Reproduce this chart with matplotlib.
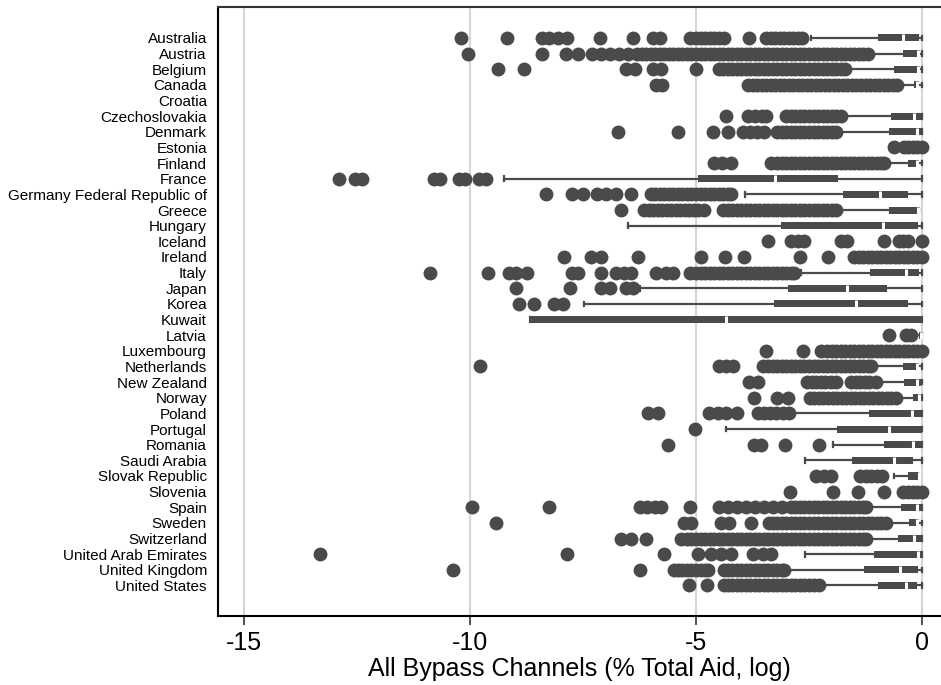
import numpy as np
import matplotlib
matplotlib.use("Agg")
import matplotlib.pyplot as plt

plt.rcParams['font.family'] = ['Liberation Sans', 'DejaVu Sans']

countries = [
    "Australia", "Austria", "Belgium", "Canada", "Croatia", "Czechoslovakia",
    "Denmark", "Estonia", "Finland", "France", "Germany Federal Republic of",
    "Greece", "Hungary", "Iceland", "Ireland", "Italy", "Japan", "Korea",
    "Kuwait", "Latvia", "Luxembourg", "Netherlands", "New Zealand", "Norway",
    "Poland", "Portugal", "Romania", "Saudi Arabia", "Slovak Republic",
    "Slovenia", "Spain", "Sweden", "Switzerland", "United Arab Emirates",
    "United Kingdom", "United States",
]

# box statistics (nan = no box drawn)
whis_lo = [-2.46, -1.10, -1.60, -0.45, np.nan, -1.70, -1.85, 0.0, -0.80, -9.25,
           -3.92, -1.85, -6.50, 0.0, 0.0, -2.68, -6.25, -7.48, -8.67, -0.20,
           0.0, -1.10, -0.95, -0.55, -2.90, -4.34, -1.97, -2.59, -0.62, 0.0,
           -1.20, -0.70, -1.20, -2.59, -3.00, -2.20]
q1 = [-0.98, -0.43, -0.62, -0.18, np.nan, -0.69, -0.73, 0.0, -0.31, -4.96,
      -1.75, -0.73, -3.12, 0.0, 0.0, -1.15, -2.97, -3.27, -8.67, -0.07,
      0.0, -0.42, -0.40, -0.20, -1.17, -1.88, -0.83, -1.55, -0.31, 0.0,
      -0.46, -0.28, -0.53, -1.06, -1.28, -0.97]
median = [-0.43, -0.08, -0.08, -0.10, np.nan, -0.17, -0.12, 0.0, -0.10, -3.25,
          -0.93, -0.08, -0.87, 0.0, 0.0, -0.36, -1.65, -1.46, -4.33, -0.03,
          0.0, -0.10, -0.10, -0.07, -0.22, -0.72, -0.20, -0.62, -0.07, 0.0,
          -0.10, -0.10, -0.17, -0.08, -0.49, -0.35]
q3 = [-0.07, -0.04, -0.04, -0.06, np.nan, -0.02, -0.02, 0.0, -0.07, -1.86,
      -0.31, -0.06, -0.09, 0.0, 0.0, -0.07, -0.77, -0.31, 0.0, 0.0,
      0.0, -0.07, -0.02, -0.02, 0.0, 0.0, 0.0, -0.20, -0.06, 0.0,
      0.0, -0.07, 0.0, 0.0, -0.09, -0.11]
whis_hi = [0.0, 0.0, 0.0, 0.0, np.nan, 0.0, 0.0, 0.0, 0.0, 0.0,
           0.0, -0.06, 0.0, 0.0, 0.0, 0.0, 0.0, 0.0, 0.0, 0.0,
           0.0, 0.0, 0.0, 0.0, 0.0, 0.0, 0.0, 0.0, -0.06, 0.0,
           0.0, 0.0, 0.0, 0.0, 0.0, 0.0]

# outside values, one list per country
outliers = [
    # Australia
    [-10.2, -9.18, -8.4, -8.25, -8.05, -7.85, -7.12, -6.4, -5.95, -5.8, -5.14, -5.0, -4.9,
     -4.8, -4.7, -4.6, -4.5, -4.38, -3.83, -3.45, -3.35, -3.25, -3.15, -3.05, -2.95, -2.85,
     -2.75, -2.65],
    # Austria
    [-10.05, -8.41, -7.88, -7.6, -7.3, -7.1, -6.9, -6.7, -6.5, -6.3, -6.2, -6.1, -6.0, -5.9,
     -5.8, -5.7, -5.6, -5.5, -5.4, -5.3, -5.2, -5.1, -5.0, -4.9, -4.8, -4.7, -4.6, -4.5, -4.4,
     -4.3, -4.2, -4.1, -4.0, -3.9, -3.8, -3.7, -3.6, -3.5, -3.4, -3.3, -3.2, -3.1, -3.0, -2.9,
     -2.8, -2.7, -2.6, -2.5, -2.4, -2.3, -2.2, -2.1, -2.0, -1.9, -1.8, -1.7, -1.6, -1.5, -1.4,
     -1.3, -1.2],
    # Belgium
    [-9.37, -8.81, -6.55, -6.35, -5.95, -5.77, -5.0, -4.5, -4.4, -4.3, -4.2, -4.1, -4.0, -3.9,
     -3.8, -3.7, -3.6, -3.5, -3.4, -3.3, -3.2, -3.1, -3.0, -2.9, -2.8, -2.7, -2.6, -2.5, -2.4,
     -2.3, -2.2, -2.1, -2.0, -1.9, -1.8, -1.7],
    # Canada
    [-5.88, -5.75, -3.85, -3.75, -3.65, -3.55, -3.45, -3.35, -3.25, -3.15, -3.05, -2.95, -2.85,
     -2.75, -2.65, -2.55, -2.45, -2.35, -2.25, -2.15, -2.05, -1.95, -1.85, -1.75, -1.65, -1.55,
     -1.45, -1.35, -1.25, -1.15, -1.05, -0.95, -0.85, -0.75, -0.65, -0.55],
    # Croatia
    [],
    # Czechoslovakia
    [-4.34, -3.85, -3.7, -3.55, -3.45, -3.0, -2.9, -2.8, -2.7, -2.6, -2.5, -2.4, -2.3, -2.2,
     -2.1, -2.0, -1.9, -1.8],
    # Denmark
    [-6.73, -5.4, -4.62, -4.3, -3.95, -3.8, -3.65, -3.5, -3.2, -3.1, -3.0, -2.9, -2.8, -2.7,
     -2.6, -2.5, -2.4, -2.3, -2.2, -2.1, -2.0, -1.9],
    # Estonia
    [-0.62, -0.4, -0.3, -0.2, -0.1, 0.0],
    # Finland
    [-4.6, -4.42, -4.22, -3.34, -3.2, -3.1, -3.0, -2.9, -2.8, -2.7, -2.6, -2.5, -2.4, -2.3,
     -2.2, -2.1, -2.0, -1.9, -1.8, -1.7, -1.6, -1.5, -1.4, -1.3, -1.2, -1.1, -1.0, -0.9, -0.85],
    # France
    [-12.9, -12.55, -12.4, -10.8, -10.67, -10.25, -10.1, -9.8, -9.65],
    # Germany
    [-8.32, -7.75, -7.5, -7.2, -7.0, -6.77, -6.44, -6.0, -5.9, -5.8, -5.7, -5.6, -5.5, -5.4,
     -5.3, -5.2, -5.1, -5.0, -4.9, -4.8, -4.7, -4.6, -4.5, -4.4, -4.3, -4.23],
    # Greece
    [-6.65, -6.15, -6.05, -5.95, -5.85, -5.75, -5.65, -5.55, -5.45, -5.35, -5.25, -5.15, -5.05,
     -4.95, -4.82, -4.4, -4.3, -4.2, -4.1, -4.0, -3.9, -3.8, -3.7, -3.6, -3.5, -3.4, -3.3, -3.2,
     -3.1, -3.0, -2.9, -2.8, -2.7, -2.6, -2.5, -2.4, -2.3, -2.2, -2.1, -2.0, -1.9],
    # Hungary
    [],
    # Iceland
    [-3.4, -2.9, -2.75, -2.6, -1.8, -1.65, -0.85, -0.52, -0.42, -0.32, 0.0],
    # Ireland
    [-7.93, -7.32, -7.1, -6.28, -4.89, -4.36, -3.94, -2.7, -2.08, -1.5, -1.4, -1.3, -1.2, -1.1,
     -1.0, -0.9, -0.8, -0.7, -0.6, -0.5, -0.4, -0.3, -0.2, -0.1, 0.0],
    # Italy
    [-10.88, -9.61, -9.14, -8.98, -8.74, -7.75, -7.62, -7.1, -6.77, -6.6, -6.44, -5.88, -5.66,
     -5.5, -5.13, -5.0, -4.9, -4.8, -4.7, -4.6, -4.5, -4.4, -4.3, -4.2, -4.1, -4.0, -3.9, -3.8,
     -3.7, -3.6, -3.5, -3.4, -3.3, -3.2, -3.1, -3.0, -2.9, -2.83],
    # Japan
    [-8.98, -7.79, -7.1, -6.9, -6.55, -6.4],
    # Korea
    [-8.91, -8.58, -8.14, -7.94],
    # Kuwait
    [],
    # Latvia
    [-0.73, -0.35, -0.25],
    # Luxembourg
    [-3.45, -2.63, -2.23, -2.1, -2.0, -1.9, -1.8, -1.7, -1.6, -1.5, -1.4, -1.3, -1.2, -1.1,
     -1.0, -0.9, -0.8, -0.7, -0.6, -0.5, -0.4, -0.3, -0.2, -0.1, 0.0],
    # Netherlands
    [-9.78, -4.49, -4.34, -4.18, -3.52, -3.4, -3.3, -3.2, -3.1, -3.0, -2.9, -2.8, -2.7, -2.6,
     -2.5, -2.4, -2.3, -2.2, -2.1, -2.0, -1.9, -1.8, -1.7, -1.6, -1.5, -1.4, -1.3, -1.2, -1.13],
    # New Zealand
    [-3.83, -3.63, -2.54, -2.44, -2.34, -2.24, -2.14, -2.02, -1.9, -1.57, -1.47, -1.37, -1.27,
     -1.17, -1.02],
    # Norway
    [-3.72, -3.2, -2.96, -2.48, -2.38, -2.28, -2.18, -2.08, -1.98, -1.88, -1.78, -1.68, -1.58,
     -1.48, -1.38, -1.28, -1.18, -1.08, -0.98, -0.88, -0.78, -0.68, -0.58],
    # Poland
    [-6.06, -5.84, -4.71, -4.51, -4.34, -4.1, -3.63, -3.5, -3.37, -3.23, -3.08, -2.94],
    # Portugal
    [-5.02],
    # Romania
    [-5.62, -3.72, -3.56, -3.03, -2.28],
    # Saudi Arabia
    [],
    # Slovak Republic
    [-2.34, -2.17, -2.01, -1.38, -1.25, -1.12, -1.0, -0.88],
    # Slovenia
    [-2.92, -1.97, -1.42, -0.84, -0.42, -0.3, -0.2, -0.1, 0.0],
    # Spain
    [-9.96, -8.25, -6.25, -6.08, -5.9, -5.77, -5.13, -4.49, -4.3, -4.1, -3.9, -3.7, -3.5, -3.3,
     -3.1, -2.9, -2.8, -2.7, -2.6, -2.5, -2.4, -2.3, -2.2, -2.1, -2.0, -1.9, -1.8, -1.7, -1.6,
     -1.5, -1.4, -1.3, -1.24],
    # Sweden
    [-9.42, -5.27, -5.1, -4.45, -4.27, -3.78, -3.38, -3.3, -3.2, -3.1, -3.0, -2.9, -2.8, -2.7,
     -2.6, -2.5, -2.4, -2.3, -2.2, -2.1, -2.0, -1.9, -1.8, -1.7, -1.6, -1.5, -1.4, -1.3, -1.2,
     -1.1, -1.0, -0.9, -0.8],
    # Switzerland
    [-6.66, -6.44, -6.1, -5.33, -5.2, -5.1, -5.0, -4.9, -4.8, -4.7, -4.6, -4.5, -4.4, -4.3,
     -4.2, -4.1, -4.0, -3.9, -3.8, -3.7, -3.6, -3.5, -3.4, -3.3, -3.2, -3.1, -3.0, -2.9, -2.8,
     -2.7, -2.6, -2.5, -2.4, -2.3, -2.2, -2.1, -2.0, -1.9, -1.8, -1.7, -1.6, -1.5, -1.4, -1.3,
     -1.24],
    # United Arab Emirates
    [-13.32, -7.85, -5.7, -4.96, -4.67, -4.45, -4.23, -3.74, -3.52, -3.34],
    # United Kingdom
    [-10.38, -6.24, -5.49, -5.4, -5.3, -5.2, -5.1, -5.0, -4.9, -4.8, -4.73, -4.38, -4.3, -4.2,
     -4.1, -4.0, -3.9, -3.8, -3.7, -3.6, -3.5, -3.4, -3.3, -3.2, -3.1, -3.05],
    # United States
    [-5.15, -4.76, -4.38, -4.3, -4.2, -4.1, -4.0, -3.9, -3.8, -3.7, -3.6, -3.5, -3.4, -3.3,
     -3.2, -3.1, -3.0, -2.9, -2.8, -2.7, -2.6, -2.5, -2.4, -2.28],
]

x_ticks = [-15, -10, -5, 0]
x_label = "All Bypass Channels (% Total Aid, log)"

GRAY = "#4a4a4a"

stats, positions = [], []
for i, name in enumerate(countries):
    if np.isnan(q1[i]):
        continue
    stats.append(dict(label=name, whislo=whis_lo[i], q1=q1[i], med=median[i],
                      q3=q3[i], whishi=whis_hi[i], fliers=np.array(outliers[i])))
    positions.append(i)

fig = plt.figure(figsize=(9.41, 6.85), dpi=100)
ax = fig.add_axes([218 / 941, 1 - 616 / 685, 1 - 218 / 941, 609 / 685])

ax.bxp(stats, positions=positions, orientation="horizontal", widths=0.45,
       capwidths=0.3, patch_artist=True, manage_ticks=False,
       boxprops=dict(facecolor=GRAY, edgecolor="none", linewidth=0),
       medianprops=dict(color="white", linewidth=2.2, solid_capstyle="butt", zorder=2.5),
       whiskerprops=dict(color=GRAY, linewidth=1.6),
       capprops=dict(color=GRAY, linewidth=1.6),
       flierprops=dict(marker="o", markersize=10, markerfacecolor=GRAY,
                       markeredgecolor="none", linestyle="none", zorder=3))

ax.set_xlim(-15.575, 0.42)
ax.set_ylim(len(countries) - 1 + 1.95, -1.98)

ax.set_yticks(range(len(countries)))
ax.set_yticklabels(countries, fontsize=11)
ax.tick_params(axis="y", length=0, pad=8)

ax.set_xticks(x_ticks)
ax.set_xticklabels([str(t) for t in x_ticks], fontsize=18)
ax.tick_params(axis="x", length=6.5, width=1.2, color="#333333", pad=4)
ax.set_xlabel(x_label, fontsize=18, labelpad=2)

ax.grid(axis="x", color="#d6d6d6", linewidth=1.5)
ax.set_axisbelow(True)

ax.spines["right"].set_visible(False)
ax.spines["top"].set_color("#333333")
ax.spines["top"].set_linewidth(1.5)
ax.spines["left"].set_linewidth(1.5)
ax.spines["bottom"].set_linewidth(1.5)

fig.savefig("out.png", dpi=100)
